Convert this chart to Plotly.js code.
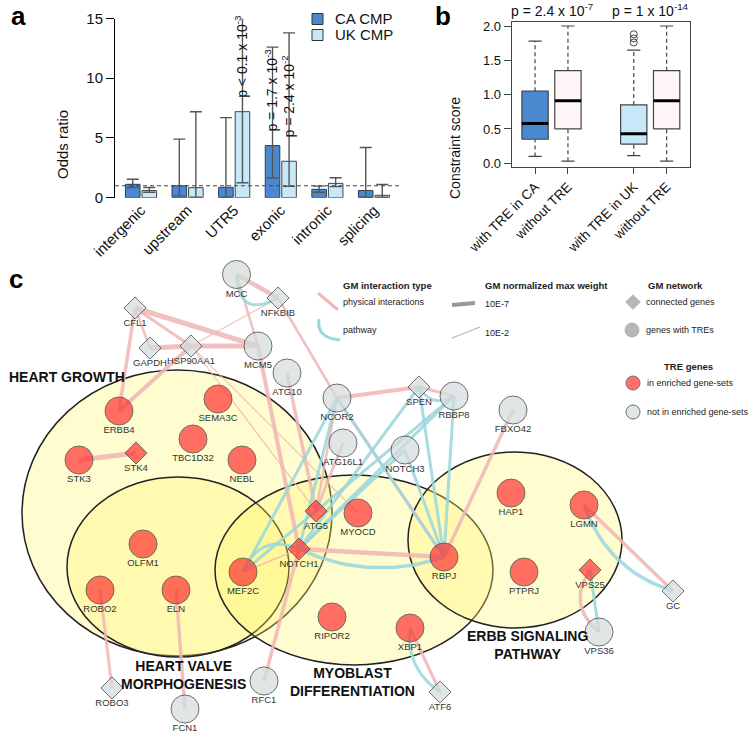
<!DOCTYPE html>
<html><head><meta charset="utf-8">
<script src="https://cdn.plot.ly/plotly-3.0.1.min.js"></script>
<style>body{margin:0;background:#fff}#chart{width:750px;height:740px}</style>
</head><body><div id="chart"></div>
<script>
// ---------------- Panel a data ----------------
const regions = ['intergenic','upstream','UTR5','exonic','intronic','splicing'];
const seriesNames = ['CA CMP','UK CMP'];
const caOdds = [1.12, 1.00, 0.87, 4.36, 0.70, 0.60];
const caLow  = [0.85, 0.15, 0.05, 1.65, 0.45, 0.05];
const caHigh = [1.55, 4.90, 6.70, 12.6, 0.97, 4.20];
const ukOdds = [0.60, 0.84, 7.20, 3.05, 1.20, 0.20];
const ukLow  = [0.45, 0.05, 1.25, 0.95, 0.93, 0.05];
const ukHigh = [0.85, 7.20, 16.0, 13.8, 1.67, 1.10];
const pRegion = ['UTR5','exonic','exonic'];
const pSeries = ['UK','CA','UK'];
const pText = ['p < 0.1 x 10<sup>-3</sup>','p = 1.7 x 10<sup>-3</sup>','p = 2.4 x 10<sup>-2</sup>'];

// ---------------- Panel b data ----------------
const boxLabels = ['with TRE in CA','without TRE','with TRE in UK','without TRE'];
const boxLower = [0.10, 0.03, 0.11, 0.03];
const boxQ1    = [0.35, 0.50, 0.28, 0.50];
const boxMed   = [0.58, 0.91, 0.43, 0.91];
const boxQ3    = [1.05, 1.35, 0.85, 1.35];
const boxUpper = [1.78, 2.00, 1.65, 2.00];
const boxOutliers = [[], [], [1.76, 1.82, 1.88], []];
const boxPvals = ['p = 2.4 x 10<sup>-7</sup>', 'p = 1 x 10<sup>-14</sup>'];

// ---------------- Panel c data ----------------
const nodeNames = ['MCC','NFKBIB','CFL1','GAPDH','HSP90AA1','MCM5','ATG10','NCOR2','ATG16L1','SPEN','RBBP8','FBXO42','NOTCH3',
  'ERBB4','SEMA3C','TBC1D32','NEBL','STK3','STK4','ATG5','MYOCD','NOTCH1','MEF2C','RBPJ','HAP1','LGMN','VPS25','PTPRJ',
  'OLFM1','ROBO2','ELN','RIPOR2','XBP1','ROBO3','FCN1','RFC1','ATF6','GC','VPS36'];
const nodeX = [236.5,278,135,150,191,258,287,337,343,419,454,513,405,
  119,218,193,242,79,136,316,358,299,243,444,511,584,590,524,
  143,100,176,332,410,112,185,264,440,673,599];
const nodeY = [274.5,298,308,348,346,346,373,398,443,387,396,410,450,
  411,399,439,460,460,453,511,513,549,572,557,493,505,570,572,
  544,590,590,617,628,688,709,681,692,591,632];
const nodeConnected = [0,1,1,1,1,0,0,0,0,1,0,0,0, 0,0,0,0,0,1,1,0,1,0,0,0,0,1,0, 0,0,0,0,0,1,0,0,1,1,0]; // 1 = connected gene (diamond)
const nodeEnriched  = [0,0,0,0,0,0,0,0,0,0,0,0,0, 1,1,1,1,1,1,1,1,1,1,1,1,1,1,1, 1,1,1,1,1,0,0,0,0,0,0];

const edgeFrom = ['CFL1','CFL1','CFL1','CFL1','GAPDH','HSP90AA1','HSP90AA1','HSP90AA1','HSP90AA1','HSP90AA1','MCC','MCC','NFKBIB','MCM5','ATG10','ATG16L1','NCOR2','NCOR2','SPEN','NCOR2','NOTCH1','MEF2C','NOTCH1','STK3','ROBO2','ELN','XBP1','FBXO42','LGMN','VPS25',
  'MCC','NCOR2','NCOR2','NCOR2','SPEN','RBBP8','NOTCH3','SPEN','RBBP8','NOTCH3','SPEN','MEF2C','NOTCH1','XBP1','LGMN','VPS25','RBBP8'];
const edgeTo = ['ERBB4','GAPDH','MCM5','HSP90AA1','HSP90AA1','MCM5','ERBB4','NFKBIB','ATG5','MYOCD','NFKBIB','MCM5','NCOR2','NOTCH1','ATG5','ATG5','ATG5','SPEN','RBBP8','RBPJ','RBPJ','NOTCH1','RFC1','STK4','ROBO3','FCN1','ATF6','RBPJ','GC','VPS36',
  'NFKBIB','MEF2C','NOTCH1','RBPJ','NOTCH1','NOTCH1','NOTCH1','RBPJ','RBPJ','RBPJ','RBBP8','NOTCH1','RBPJ','ATF6','GC','VPS36','MEF2C'];
const edgeType = ['physical','physical','physical','physical','physical','physical','physical','physical','physical','physical','physical','physical','physical','physical','physical','physical','physical','physical','physical','physical','physical','physical','physical','physical','physical','physical','physical','physical','physical','physical',
  'pathway','pathway','pathway','pathway','pathway','pathway','pathway','pathway','pathway','pathway','pathway','pathway','pathway','pathway','pathway','pathway','pathway'];
const edgeWeight = [3.5,2.5,5,3,5,5,4,1.2,1.2,1.2,4.5,2.5,2.5,4,3.5,3,2.5,4,3,3,4.5,1.5,3.5,5,3,3.5,3,3.5,3.5,3.5,
  3,3,3,3,3,3,3,3,3,3,3,3,3.5,3,3.5,3,3];
const edgeBend = [0,0,0,0,0,0,0,0,0,0,0,0,0,0,0,0,0,0,0,0,0,0,0,0,0,0,0,0,0,0.45,
  0.8,0,0,0,0,0,0,0,0,0,0.5,-0.5,0.2,0.3,0.25,0,0];

const geneSets = ['HEART GROWTH','HEART VALVE<br>MORPHOGENESIS','MYOBLAST<br>DIFFERENTIATION','ERBB SIGNALING<br>PATHWAY'];

// ---------------- Layout helpers ----------------
const FONT = 'Liberation Sans, Arial, Helvetica, sans-serif';
const W = 750, H = 740;
const px = x => x / W, py = y => 1 - y / H;
const CA_COLOR = '#4a89d0', UK_COLOR = '#c6e8f8', NO_COLOR = '#fff7f7';
const PINK = '#f2b6b6', CYAN = '#9ad7dc';
const RED = '#ff3333', GREY = '#d3dcdc';

const traces = [];
const shapes = [];
const annotations = [];

// ---------------- Panel a ----------------
traces.push({type:'bar', name:seriesNames[0], x:regions, y:caOdds, xaxis:'x', yaxis:'y', showlegend:false,
  marker:{color:CA_COLOR, line:{color:'#2b3f55', width:1}},
  error_y:{type:'data', symmetric:false, array:caHigh.map((h,i)=>h-caOdds[i]), arrayminus:caOdds.map((v,i)=>v-caLow[i]), color:'#555', thickness:1.4, width:6},
  hoverinfo:'skip'});
traces.push({type:'bar', name:seriesNames[1], x:regions, y:ukOdds, xaxis:'x', yaxis:'y', showlegend:false,
  marker:{color:UK_COLOR, line:{color:'#444', width:1}},
  error_y:{type:'data', symmetric:false, array:ukHigh.map((h,i)=>h-ukOdds[i]), arrayminus:ukOdds.map((v,i)=>v-ukLow[i]), color:'#555', thickness:1.4, width:6},
  hoverinfo:'skip'});
shapes.push({type:'line', xref:'x domain', yref:'y', x0:0, x1:1, y0:1, y1:1, line:{color:'#444', width:1.2, dash:'4px,3px'}});
pText.forEach((t,i)=>{
  const ci = regions.indexOf(pRegion[i]);
  const isUK = pSeries[i]==='UK';
  const top = isUK ? ukOdds[ci] : caOdds[ci];
  annotations.push({xref:'x', yref:'y', x: ci + (isUK ? 0.16 : -0.2), y: top, yshift: isUK && ci===3 ? 22 : 12,
    text:t, textangle:-90, showarrow:false, xanchor:'center', yanchor:'bottom', font:{size:14, color:'#111', family:FONT}});
});
annotations.push({xref:'paper', yref:'paper', x:px(52), y:py(108), text:'Odds ratio', textangle:-90, showarrow:false, font:{size:15, color:'#111', family:FONT}});
// legend of panel a
[CA_COLOR, UK_COLOR].forEach((c,k)=>{
  const yc = 19 + 16*k;
  shapes.push({type:'rect', xref:'paper', yref:'paper', x0:px(312), x1:px(323), y0:py(yc-5.5), y1:py(yc+5.5), fillcolor:c, line:{color:'#333', width:1}});
  annotations.push({xref:'paper', yref:'paper', x:px(333), y:py(yc), text:seriesNames[k], showarrow:false, xanchor:'left', yanchor:'middle', font:{size:15, color:'#111', family:FONT}});
});

// ---------------- Panel b ----------------
const boxPos = boxLabels.map((_,i)=> i + 1 + (i >= 2 ? 1 : 0));
const boxFill = [CA_COLOR, NO_COLOR, UK_COLOR, NO_COLOR];
const halfW = 0.4, capW = 0.2;
boxLabels.forEach((lab,i)=>{
  const p = boxPos[i];
  traces.push({type:'scatter', mode:'lines', xaxis:'x2', yaxis:'y2', x:[p,p], y:[boxLower[i], boxQ1[i]], line:{color:'#444', width:1.2, dash:'4px,3px'}, hoverinfo:'skip', showlegend:false});
  traces.push({type:'scatter', mode:'lines', xaxis:'x2', yaxis:'y2', x:[p,p], y:[boxQ3[i], boxUpper[i]], line:{color:'#444', width:1.2, dash:'4px,3px'}, hoverinfo:'skip', showlegend:false});
  traces.push({type:'scatter', mode:'lines', xaxis:'x2', yaxis:'y2', x:[p-capW,p+capW,null,p-capW,p+capW], y:[boxLower[i],boxLower[i],null,boxUpper[i],boxUpper[i]], line:{color:'#444', width:1.2}, hoverinfo:'skip', showlegend:false});
  traces.push({type:'scatter', mode:'lines', xaxis:'x2', yaxis:'y2', x:[p-halfW,p+halfW,p+halfW,p-halfW,p-halfW], y:[boxQ1[i],boxQ1[i],boxQ3[i],boxQ3[i],boxQ1[i]], fill:'toself', fillcolor:boxFill[i], line:{color:'#444', width:1.2}, hoverinfo:'skip', showlegend:false});
  traces.push({type:'scatter', mode:'lines', xaxis:'x2', yaxis:'y2', x:[p-halfW,p+halfW], y:[boxMed[i],boxMed[i]], line:{color:'#000', width:3}, hoverinfo:'skip', showlegend:false});
  if (boxOutliers[i].length) traces.push({type:'scatter', mode:'markers', xaxis:'x2', yaxis:'y2', x:boxOutliers[i].map(()=>p), y:boxOutliers[i], marker:{symbol:'circle-open', size:7, color:'#444', line:{width:1}}, hoverinfo:'skip', showlegend:false});
});
boxPvals.forEach((t,k)=>{
  annotations.push({xref:'x2', yref:'paper', x:(boxPos[2*k]+boxPos[2*k+1])/2, y:py(21), yanchor:'bottom', text:t, showarrow:false, font:{size:14, color:'#111', family:FONT}});
});
annotations.push({xref:'paper', yref:'paper', x:px(455), y:py(95), text:'Constraint score', textangle:-90, showarrow:false, font:{size:14, color:'#111', family:FONT}});

// ---------------- Panel c ----------------
const setCX = [177, 178, 354, 515], setCY = [513, 567, 570, 540], setRX = [155, 111, 139, 107], setRY = [143, 90, 95, 88];
const setLabX = [7, 183, 352, 527], setLabY = [377, 675, 682, 645];
geneSets.forEach((s,i)=>{
  shapes.push({type:'circle', xref:'x3', yref:'y3', x0:setCX[i]-setRX[i], x1:setCX[i]+setRX[i], y0:setCY[i]-setRY[i], y1:setCY[i]+setRY[i],
    fillcolor:'rgba(255,246,109,0.33)', line:{color:'#222', width:1.5}, layer:'below'});
  annotations.push({xref:'x3', yref:'y3', x:setLabX[i], y:setLabY[i], text:'<b>'+s+'</b>', showarrow:false, xanchor: i===0 ? 'left' : 'center',
    font:{size:14, color:'#111', family:FONT}, align:'center'});
});

function curve(x0,y0,x1,y1,b){
  if (!b) return [[x0,x1],[y0,y1]];
  const cx = (x0+x1)/2 - (y1-y0)*b, cy = (y0+y1)/2 + (x1-x0)*b;
  const xs=[], ys=[];
  for (let k=0;k<=24;k++){ const t=k/24, u=1-t;
    xs.push(u*u*x0 + 2*u*t*cx + t*t*x1); ys.push(u*u*y0 + 2*u*t*cy + t*t*y1); }
  return [xs,ys];
}
['physical','pathway'].forEach(kind=>{
  edgeFrom.forEach((a,i)=>{
    if (edgeType[i]!==kind) return;
    const ia = nodeNames.indexOf(a), ib = nodeNames.indexOf(edgeTo[i]);
    const [xs,ys] = curve(nodeX[ia],nodeY[ia],nodeX[ib],nodeY[ib],edgeBend[i]);
    traces.push({type:'scatter', mode:'lines', xaxis:'x3', yaxis:'y3', x:xs, y:ys,
      line:{color: kind==='physical' ? PINK : CYAN, width:edgeWeight[i]}, opacity:0.85, hoverinfo:'skip', showlegend:false});
  });
});
traces.push({type:'scatter', mode:'markers', xaxis:'x3', yaxis:'y3', x:nodeX, y:nodeY, cliponaxis:false,
  marker:{symbol:nodeConnected.map(c=>c?'diamond':'circle'), size:nodeConnected.map(c=>c?17:28),
    color:nodeEnriched.map(e=>e?RED:GREY), line:{color:'#333', width:1}}, hoverinfo:'skip', showlegend:false});
traces.push({type:'scatter', mode:'text', xaxis:'x3', yaxis:'y3', x:nodeX, y:nodeY.map((y,i)=>y + (nodeConnected[i]?16:20)), text:nodeNames, cliponaxis:false,
  textfont:{size:9.5, color:'#333', family:FONT}, hoverinfo:'skip', showlegend:false});

// legends of panel c
const lt = (x,y,t,bold,size)=>annotations.push({xref:'x3', yref:'y3', x:x, y:y, text: bold?'<b>'+t+'</b>':t, showarrow:false, xanchor:'left', yanchor:'middle', font:{size:size||9, color:'#222', family:FONT}});
lt(341,285,'GM interaction type',true,9.5); lt(341,302,'physical interactions'); lt(341,330,'pathway');
lt(483,285,'GM normalized max weight',true,9.5); lt(483,304,'10E-7'); lt(483,333,'10E-2');
lt(646,285,'GM network',true,9.5); lt(644,302,'connected genes'); lt(644,330,'genes with TREs');
lt(662,366,'TRE genes',true,9.5); lt(645,383,'in enriched gene-sets'); lt(645,412,'not in enriched gene-sets');
shapes.push({type:'line', xref:'x3', yref:'y3', x0:318, y0:293, x1:338, y1:310, line:{color:PINK, width:3}});
shapes.push({type:'path', xref:'x3', yref:'y3', path:'M 319 319 Q 316 338 340 340', line:{color:CYAN, width:3}});
shapes.push({type:'line', xref:'x3', yref:'y3', x0:452, y0:305, x1:475, y1:303, line:{color:'#999', width:4}});
shapes.push({type:'line', xref:'x3', yref:'y3', x0:452, y0:338, x1:480, y1:327, line:{color:'#aaa', width:1}});
traces.push({type:'scatter', mode:'markers', xaxis:'x3', yaxis:'y3', x:[633,632,633,633], y:[302,330,383,412], cliponaxis:false,
  marker:{symbol:['diamond','circle','circle','circle'], size:[12,15,14,14], color:['#999','#999',RED,GREY], line:{color:'#333', width:[0,0,1,1]}}, hoverinfo:'skip', showlegend:false});

// panel letters
[['a',9,16],['b',433,16],['c',7,279]].forEach(([t,x,y])=>annotations.push({xref:'paper', yref:'paper', x:px(x), y:py(y), text:'<b>'+t+'</b>', showarrow:false, xanchor:'left', yanchor:'middle', font:{size:26, color:'#000', family:FONT}}));

const layout = {
  width:W, height:H, margin:{l:0,r:0,t:0,b:0}, paper_bgcolor:'#fff', plot_bgcolor:'rgba(0,0,0,0)',
  font:{family:FONT, color:'#111'}, showlegend:false,
  barmode:'group', bargap:0.29, bargroupgap:0.12,
  xaxis:{domain:[px(115), px(402)], type:'category', range:[-0.558, 5.601], showline:false, ticks:'', tickangle:-45, tickfont:{size:15, color:'#111'}, showgrid:false, zeroline:false, fixedrange:true},
  yaxis:{domain:[py(197.7), py(18.5)], range:[0,15], tickvals:[0,5,10,15], ticks:'outside', ticklen:8, tickcolor:'#000', showline:true, linecolor:'#000', linewidth:1, showgrid:false, zeroline:false, tickfont:{size:15, color:'#111'}},
  xaxis2:{domain:[px(511.7), px(690)], range:[0.29, 5.71], tickvals:boxPos, ticktext:boxLabels, tickangle:-45, ticks:'outside', ticklen:6, tickcolor:'#444', showline:true, mirror:true, linecolor:'#444', showgrid:false, zeroline:false, tickfont:{size:13.5, color:'#111'}, anchor:'y2'},
  yaxis2:{domain:[py(166.7), py(21.7)], range:[-0.05, 2.063], tickvals:[0,0.5,1,1.5,2], ticktext:['0.0','0.5','1.0','1.5','2.0'], ticks:'outside', ticklen:7, tickcolor:'#444', showline:true, mirror:true, linecolor:'#444', showgrid:false, zeroline:false, tickfont:{size:13, color:'#111'}, anchor:'x2'},
  xaxis3:{domain:[0,1], range:[0,750], visible:false, anchor:'y3'},
  yaxis3:{domain:[0, py(250)], range:[740,250], visible:false, anchor:'x3'},
  shapes:shapes, annotations:annotations
};
Plotly.newPlot('chart', traces, layout, {displayModeBar:false, staticPlot:true});
</script>
</body></html>
